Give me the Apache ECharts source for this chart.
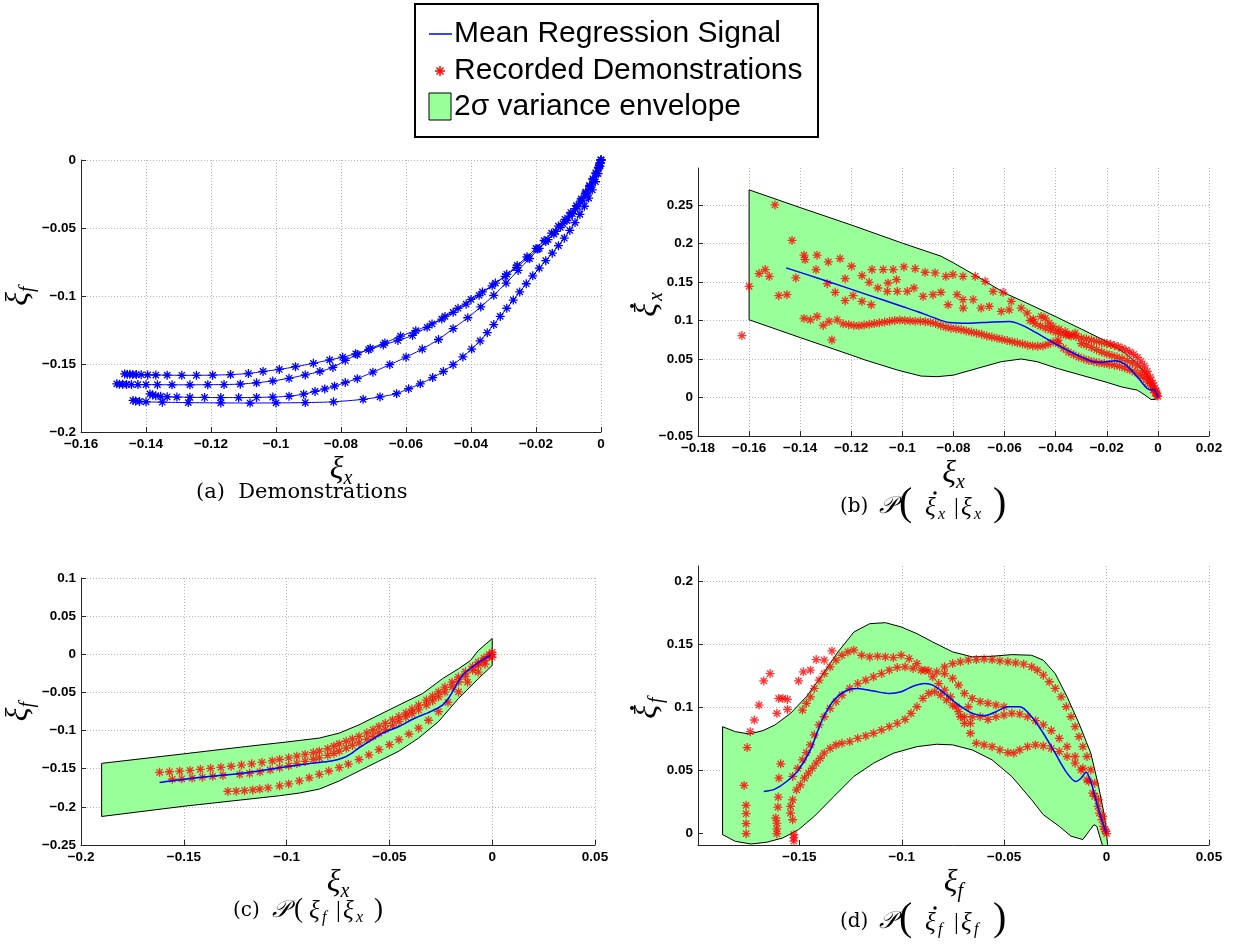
<!DOCTYPE html>
<html><head><meta charset="utf-8">
<script src="https://cdn.jsdelivr.net/npm/echarts@6/dist/echarts.min.js"></script>
<style>html,body{margin:0;padding:0;background:#fff}#c{width:1234px;height:945px}</style>
</head><body><div id="c"></div>
<script>
// ---------------- DATA ----------------
// (a) Demonstrations  [xi_x, xi_f]
const demoA1 = [[-0.1466,-0.1573],[-0.1458,-0.1575],[-0.1450,-0.1576],[-0.1441,-0.1577],[-0.1430,-0.1578],[-0.1415,-0.1579],[-0.1395,-0.1580],[-0.1370,-0.1581],[-0.1335,-0.1582],[-0.1290,-0.1583],[-0.1245,-0.1583],[-0.1195,-0.1582],[-0.1140,-0.1578],[-0.1085,-0.1570],[-0.1040,-0.1555],[-0.0990,-0.1540],[-0.0940,-0.1520],[-0.0885,-0.1495],[-0.0835,-0.1470],[-0.0795,-0.1450],[-0.0755,-0.1425],[-0.0715,-0.1395],[-0.0670,-0.1360],[-0.0625,-0.1327],[-0.0580,-0.1290],[-0.0535,-0.1230],[-0.0490,-0.1170],[-0.0455,-0.1120],[-0.0415,-0.1060],[-0.0375,-0.0995],[-0.0335,-0.0925],[-0.0295,-0.0855],[-0.0260,-0.0790],[-0.0225,-0.0720],[-0.0195,-0.0655],[-0.0170,-0.0600],[-0.0145,-0.0545],[-0.0125,-0.0495],[-0.0105,-0.0445],[-0.0088,-0.0395],[-0.0072,-0.0345],[-0.0058,-0.0295],[-0.0045,-0.0245],[-0.0034,-0.0195],[-0.0024,-0.0145],[-0.0015,-0.0100],[-0.0008,-0.0060],[-0.0003,-0.0025],[0,0]];
const demoA2 = [[-0.1490,-0.1646],[-0.1482,-0.1648],[-0.1472,-0.1649],[-0.1460,-0.1650],[-0.1445,-0.1651],[-0.1425,-0.1651],[-0.1400,-0.1652],[-0.1365,-0.1652],[-0.1320,-0.1653],[-0.1265,-0.1653],[-0.1210,-0.1652],[-0.1160,-0.1651],[-0.1110,-0.1648],[-0.1060,-0.1638],[-0.1010,-0.1625],[-0.0960,-0.1605],[-0.0910,-0.1580],[-0.0865,-0.1555],[-0.0825,-0.1525],[-0.0787,-0.1474],[-0.0750,-0.1430],[-0.0710,-0.1385],[-0.0665,-0.1345],[-0.0617,-0.1295],[-0.0570,-0.1255],[-0.0520,-0.1205],[-0.0480,-0.1150],[-0.0440,-0.1090],[-0.0400,-0.1025],[-0.0365,-0.0970],[-0.0325,-0.0905],[-0.0290,-0.0840],[-0.0258,-0.0775],[-0.0228,-0.0712],[-0.0200,-0.0650],[-0.0175,-0.0592],[-0.0152,-0.0538],[-0.0131,-0.0486],[-0.0111,-0.0436],[-0.0093,-0.0386],[-0.0076,-0.0336],[-0.0061,-0.0286],[-0.0047,-0.0236],[-0.0035,-0.0186],[-0.0025,-0.0138],[-0.0016,-0.0094],[-0.0008,-0.0054],[-0.0003,-0.0022],[0,0]];
const demoA3 = [[-0.1388,-0.1720],[-0.1380,-0.1728],[-0.1370,-0.1733],[-0.1355,-0.1738],[-0.1335,-0.1741],[-0.1305,-0.1743],[-0.1265,-0.1745],[-0.1220,-0.1746],[-0.1170,-0.1747],[-0.1115,-0.1747],[-0.1060,-0.1746],[-0.1010,-0.1743],[-0.0960,-0.1737],[-0.0915,-0.1722],[-0.0880,-0.1702],[-0.0850,-0.1683],[-0.0820,-0.1663],[-0.0787,-0.1636],[-0.0750,-0.1608],[-0.0702,-0.1560],[-0.0650,-0.1505],[-0.0600,-0.1450],[-0.0550,-0.1390],[-0.0500,-0.1320],[-0.0455,-0.1240],[-0.0410,-0.1160],[-0.0370,-0.1080],[-0.0330,-0.0995],[-0.0292,-0.0905],[-0.0255,-0.0812],[-0.0220,-0.0725],[-0.0190,-0.0650],[-0.0163,-0.0585],[-0.0139,-0.0525],[-0.0117,-0.0468],[-0.0097,-0.0412],[-0.0079,-0.0357],[-0.0063,-0.0302],[-0.0048,-0.0248],[-0.0035,-0.0195],[-0.0024,-0.0145],[-0.0015,-0.0098],[-0.0007,-0.0055],[-0.0002,-0.0020],[0,0]];
const demoA4 = [[-0.1440,-0.1768],[-0.1432,-0.1772],[-0.1420,-0.1775],[-0.1400,-0.1778],[-0.1350,-0.1781],[-0.1270,-0.1784],[-0.1170,-0.1786],[-0.1080,-0.1787],[-0.1000,-0.1786],[-0.0910,-0.1784],[-0.0823,-0.1778],[-0.0732,-0.1760],[-0.0680,-0.1742],[-0.0629,-0.1718],[-0.0592,-0.1682],[-0.0556,-0.1646],[-0.0518,-0.1600],[-0.0485,-0.1555],[-0.0455,-0.1505],[-0.0425,-0.1448],[-0.0398,-0.1390],[-0.0372,-0.1330],[-0.0350,-0.1270],[-0.0330,-0.1210],[-0.0310,-0.1150],[-0.0290,-0.1090],[-0.0270,-0.1030],[-0.0250,-0.0970],[-0.0230,-0.0910],[-0.0210,-0.0852],[-0.0190,-0.0795],[-0.0170,-0.0740],[-0.0150,-0.0685],[-0.0131,-0.0630],[-0.0113,-0.0575],[-0.0096,-0.0518],[-0.0080,-0.0460],[-0.0065,-0.0400],[-0.0051,-0.0340],[-0.0038,-0.0280],[-0.0027,-0.0220],[-0.0017,-0.0160],[-0.0009,-0.0100],[-0.0003,-0.0045],[0,0]];

// (b) P(dxi_x | xi_x)
const envUpB = [[-0.16,0.2696],[-0.14,0.2466],[-0.12,0.2240],[-0.10,0.2004],[-0.0849,0.1835],[-0.08,0.1748],[-0.07,0.1557],[-0.06,0.1357],[-0.05,0.1206],[-0.04,0.1050],[-0.03,0.0889],[-0.02,0.0726],[-0.0128,0.0574],[-0.0081,0.0443],[-0.0042,0.0290],[-0.0011,0.0117],[0.0005,0.0030]];
const envLowB = [[-0.16,0.1009],[-0.14,0.0778],[-0.12,0.0550],[-0.1146,0.0487],[-0.102,0.0357],[-0.0927,0.0278],[-0.0864,0.0270],[-0.0801,0.0290],[-0.0707,0.0378],[-0.0613,0.0465],[-0.0535,0.0500],[-0.0473,0.0465],[-0.0394,0.0378],[-0.0300,0.0290],[-0.0207,0.0204],[-0.0144,0.0139],[-0.0113,0.0117],[-0.0081,0.0096],[-0.0050,0.0030],[-0.0027,-0.0026],[-0.0011,-0.0026],[0.0005,0.0010]];
const meanB = [[-0.1455,0.1683],[-0.13,0.1516],[-0.115,0.1349],[-0.10,0.1182],[-0.0942,0.1117],[-0.0880,0.1040],[-0.0817,0.0974],[-0.0739,0.0965],[-0.0660,0.0978],[-0.0582,0.0987],[-0.0535,0.0943],[-0.0473,0.0835],[-0.0394,0.0683],[-0.0316,0.0552],[-0.0254,0.0465],[-0.0222,0.0457],[-0.0167,0.0478],[-0.0128,0.0430],[-0.0081,0.0270],[-0.0042,0.0117],[-0.0022,0.0096],[-0.0016,0.0104],[0,0]];
const velB1 = [[-0.1628,0.0804],[-0.1600,0.1443],[-0.1561,0.1609],[-0.1537,0.1661],[-0.1521,0.1574],[-0.1499,0.2500],[-0.1484,0.1322],[-0.1452,0.1335],[-0.1432,0.2039],[-0.1417,0.1552],[-0.1385,0.1848],[-0.1381,0.1791],[-0.1334,0.1848],[-0.1338,0.1661],[-0.1290,0.1761],[-0.1244,0.1804],[-0.1294,0.1478],[-0.1263,0.1365],[-0.1224,0.1543],[-0.1199,0.1704],[-0.1224,0.1257],[-0.1193,0.1322],[-0.1158,0.1583],[-0.1158,0.1248],[-0.1130,0.1496],[-0.1122,0.1204],[-0.1119,0.1661],[-0.1096,0.1422],[-0.1075,0.1661],[-0.1059,0.1378],[-0.1056,0.1487],[-0.1036,0.1661],[-0.1023,0.1530],[-0.1020,0.1378],[-0.0994,0.1696],[-0.0981,0.1378],[-0.0955,0.1422],[-0.0950,0.1674],[-0.0911,0.1626],[-0.0872,0.1617],[-0.0919,0.1313],[-0.0880,0.1335],[-0.0849,0.1365],[-0.0830,0.1574],[-0.0821,0.1204],[-0.0802,0.1596],[-0.0786,0.1335],[-0.0763,0.1574],[-0.0762,0.1161],[-0.0763,0.1270],[-0.0723,0.1270],[-0.0715,0.1574],[-0.0676,0.1509],[-0.0692,0.1161],[-0.0660,0.1183],[-0.0645,0.1378],[-0.0606,0.1365],[-0.0613,0.1117],[-0.0574,0.1248],[-0.0582,0.1139],[-0.0535,0.1161],[-0.0512,0.1096],[-0.0488,0.1017],[-0.0457,0.1052],[-0.0441,0.1030],[-0.0426,0.0965],[-0.0410,0.0922],[-0.0387,0.0887],[-0.0363,0.0857],[-0.0347,0.0813],[-0.0324,0.0835]];
const velB2 = [[-0.0340,0.0800],[-0.0320,0.0790],[-0.0300,0.0775],[-0.0280,0.0760],[-0.0260,0.0745],[-0.0240,0.0730],[-0.0220,0.0715],[-0.0200,0.0700],[-0.0185,0.0690],[-0.0170,0.0675],[-0.0155,0.0660],[-0.0140,0.0640],[-0.0125,0.0615],[-0.0110,0.0590],[-0.0095,0.0560],[-0.0080,0.0520],[-0.0066,0.0470],[-0.0053,0.0410],[-0.0041,0.0340],[-0.0030,0.0265],[-0.0020,0.0190],[-0.0012,0.0120],[-0.0005,0.0060],[0,0.0015]];
const velB3 = [[-0.1385,0.1026],[-0.1360,0.1009],[-0.1334,0.1052],[-0.1310,0.0935],[-0.1287,0.0987],[-0.1276,0.0748],[-0.1255,0.1009],[-0.1232,0.0957],[-0.1210,0.0945],[-0.1190,0.0935],[-0.1170,0.0930],[-0.1150,0.0940],[-0.1130,0.0950],[-0.1110,0.0960],[-0.1090,0.0970],[-0.1070,0.0980],[-0.1050,0.0990],[-0.1030,0.1000],[-0.1010,0.1005],[-0.0990,0.1000],[-0.0970,0.0995],[-0.0950,0.0990],[-0.0930,0.0990],[-0.0910,0.0985],[-0.0890,0.0975],[-0.0870,0.0960],[-0.0850,0.0935],[-0.0830,0.0915],[-0.0810,0.0900],[-0.0790,0.0890],[-0.0770,0.0880],[-0.0750,0.0865],[-0.0730,0.0850],[-0.0710,0.0835],[-0.0690,0.0820],[-0.0670,0.0800],[-0.0650,0.0785],[-0.0630,0.0770],[-0.0610,0.0755],[-0.0590,0.0740],[-0.0570,0.0725],[-0.0550,0.0710],[-0.0530,0.0695],[-0.0510,0.0680],[-0.0490,0.0670],[-0.0470,0.0665],[-0.0450,0.0670],[-0.0430,0.0690],[-0.0410,0.0720],[-0.0390,0.0745]];
const velB4 = [[-0.0390,0.0700],[-0.0370,0.0640],[-0.0350,0.0590],[-0.0330,0.0555],[-0.0310,0.0525],[-0.0290,0.0500],[-0.0270,0.0480],[-0.0250,0.0465],[-0.0230,0.0450],[-0.0210,0.0440],[-0.0190,0.0430],[-0.0170,0.0420],[-0.0150,0.0405],[-0.0130,0.0385],[-0.0110,0.0360],[-0.0090,0.0330],[-0.0070,0.0290],[-0.0055,0.0250],[-0.0040,0.0200],[-0.0028,0.0150],[-0.0018,0.0100],[-0.0010,0.0060],[-0.0004,0.0025]];
const velB5 = [[-0.0500,0.1000],[-0.0480,0.0960],[-0.0460,0.0930],[-0.0440,0.0900],[-0.0420,0.0875],[-0.0400,0.0850],[-0.0380,0.0830],[-0.0360,0.0810],[-0.0300,0.0700],[-0.0280,0.0680],[-0.0260,0.0650],[-0.0240,0.0620],[-0.0220,0.0590],[-0.0200,0.0565],[-0.0180,0.0545],[-0.0160,0.0525],[-0.0140,0.0505],[-0.0120,0.0480],[-0.0100,0.0450],[-0.0080,0.0410],[-0.0060,0.0350],[-0.0045,0.0290],[-0.0030,0.0220],[-0.0018,0.0150],[-0.0008,0.0080]];

// (c) P(xi_f | xi_x)
const envUpC = [[-0.19,-0.1430],[-0.15,-0.1305],[-0.12,-0.1210],[-0.10,-0.1150],[-0.0841,-0.1098],[-0.0744,-0.1033],[-0.0648,-0.0925],[-0.0551,-0.0795],[-0.0454,-0.0666],[-0.0338,-0.0514],[-0.0242,-0.0320],[-0.0164,-0.0190],[-0.0106,-0.0082],[-0.0068,0.0048],[0,0.0207]];
const envLowC = [[-0.19,-0.2126],[-0.15,-0.1992],[-0.1034,-0.1854],[-0.0938,-0.1819],[-0.0841,-0.1767],[-0.0744,-0.1660],[-0.0648,-0.1530],[-0.0551,-0.1400],[-0.0454,-0.1270],[-0.0358,-0.1098],[-0.0261,-0.0882],[-0.0164,-0.0579],[-0.0068,-0.0320],[0,-0.0147]];
const meanC = [[-0.1618,-0.1681],[-0.1421,-0.1616],[-0.1228,-0.1564],[-0.1034,-0.1487],[-0.0880,-0.1430],[-0.0783,-0.1400],[-0.0725,-0.1357],[-0.0686,-0.1301],[-0.0648,-0.1227],[-0.0590,-0.1128],[-0.0532,-0.1033],[-0.0454,-0.0946],[-0.0377,-0.0838],[-0.0300,-0.0752],[-0.0242,-0.0666],[-0.0213,-0.0579],[-0.0184,-0.0449],[-0.0145,-0.0277],[-0.0087,-0.0147],[-0.0039,-0.0060],[-0.0006,-0.0009]];
const posC1 = [[-0.1618,-0.1547],[-0.157,-0.1540],[-0.152,-0.1532],[-0.147,-0.1523],[-0.142,-0.1508],[-0.137,-0.1495],[-0.132,-0.1482],[-0.127,-0.1468],[-0.122,-0.1452],[-0.117,-0.1436],[-0.112,-0.1418],[-0.107,-0.1398],[-0.1034,-0.1379],[-0.099,-0.1357],[-0.095,-0.1336],[-0.091,-0.1313],[-0.087,-0.1288],[-0.0841,-0.1270],[-0.080,-0.1238],[-0.077,-0.1205],[-0.0744,-0.1175],[-0.071,-0.1140],[-0.068,-0.1110],[-0.0648,-0.1076],[-0.061,-0.1030],[-0.058,-0.0990],[-0.0551,-0.0946],[-0.052,-0.0905],[-0.0485,-0.0860],[-0.0454,-0.0817],[-0.042,-0.0768],[-0.039,-0.0718],[-0.0358,-0.0666],[-0.032,-0.0600],[-0.029,-0.0548],[-0.0261,-0.0493],[-0.023,-0.0430],[-0.0195,-0.0365],[-0.0164,-0.0298],[-0.013,-0.0230],[-0.0095,-0.0160],[-0.0068,-0.0104],[-0.004,-0.0050],[-0.0015,-0.0005],[0,0.0026]];
const posC2 = [[-0.1556,-0.1638],[-0.151,-0.1632],[-0.146,-0.1623],[-0.141,-0.1612],[-0.136,-0.1600],[-0.131,-0.1588],[-0.1228,-0.1573],[-0.118,-0.1560],[-0.113,-0.1540],[-0.108,-0.1515],[-0.1034,-0.1487],[-0.099,-0.1460],[-0.095,-0.1432],[-0.091,-0.1405],[-0.087,-0.1378],[-0.0841,-0.1357],[-0.080,-0.1325],[-0.077,-0.1298],[-0.0744,-0.1270],[-0.071,-0.1230],[-0.068,-0.1195],[-0.0648,-0.1162],[-0.061,-0.1115],[-0.058,-0.1075],[-0.0551,-0.1033],[-0.052,-0.0985],[-0.0485,-0.0935],[-0.0454,-0.0882],[-0.042,-0.0825],[-0.039,-0.0778],[-0.0358,-0.0730],[-0.032,-0.0665],[-0.029,-0.0612],[-0.0261,-0.0557],[-0.023,-0.0495],[-0.0195,-0.0430],[-0.0164,-0.0363],[-0.013,-0.0290],[-0.0095,-0.0210],[-0.0068,-0.0147],[-0.004,-0.0085],[-0.0015,-0.0030],[0,0]];
const posC3 = [[-0.1286,-0.1798],[-0.1245,-0.1795],[-0.1205,-0.1788],[-0.1165,-0.1778],[-0.1131,-0.1767],[-0.109,-0.1752],[-0.1034,-0.1724],[-0.099,-0.1700],[-0.0938,-0.1660],[-0.089,-0.1620],[-0.0841,-0.1573],[-0.0795,-0.1530],[-0.0744,-0.1487],[-0.070,-0.1440],[-0.0648,-0.1379],[-0.060,-0.1318],[-0.0551,-0.1249],[-0.050,-0.1185],[-0.0454,-0.1119],[-0.0405,-0.1045],[-0.0358,-0.0968],[-0.031,-0.0865],[-0.0261,-0.0752],[-0.0215,-0.0630],[-0.0164,-0.0493],[-0.012,-0.0365],[-0.0068,-0.0233],[-0.0035,-0.0130],[0,-0.0039]];

// (d) P(dxi_f | xi_f)
const envUpD = [[-0.1875,0.0847],[-0.1813,0.0808],[-0.1745,0.0789],[-0.1678,0.0816],[-0.1620,0.0860],[-0.1543,0.0953],[-0.1466,0.1084],[-0.1389,0.1255],[-0.1311,0.1440],[-0.1234,0.1597],[-0.1157,0.1663],[-0.1080,0.1671],[-0.1003,0.1637],[-0.0926,0.1584],[-0.0849,0.1518],[-0.0752,0.1440],[-0.0656,0.1400],[-0.0559,0.1405],[-0.0463,0.1418],[-0.0366,0.1413],[-0.0309,0.1374],[-0.0251,0.1268],[-0.0193,0.1084],[-0.0135,0.0874],[-0.0077,0.0637],[-0.0039,0.0374],[-0.0010,0.0137],[0.0006,-0.0100]];
const envLowD = [[-0.1875,-0.0008],[-0.1813,-0.0061],[-0.1736,-0.0082],[-0.1659,-0.0068],[-0.1581,-0.0034],[-0.1504,0.0032],[-0.1427,0.0137],[-0.1331,0.0295],[-0.1234,0.0453],[-0.1138,0.0558],[-0.1041,0.0637],[-0.0926,0.0689],[-0.0830,0.0708],[-0.0752,0.0703],[-0.0656,0.0663],[-0.0559,0.0584],[-0.0463,0.0453],[-0.0366,0.0268],[-0.0309,0.0150],[-0.0231,0.0058],[-0.0174,-0.0020],[-0.0116,-0.0047],[-0.0062,0.0071],[-0.0048,0.0058],[-0.0019,-0.0100]];
const meanD = [[-0.1674,0.0334],[-0.1620,0.0353],[-0.1562,0.0413],[-0.1504,0.0505],[-0.1446,0.0663],[-0.1389,0.0900],[-0.1331,0.1058],[-0.1273,0.1132],[-0.1215,0.1150],[-0.1138,0.1129],[-0.1061,0.1111],[-0.1003,0.1124],[-0.0945,0.1168],[-0.0887,0.1189],[-0.0849,0.1176],[-0.0791,0.1111],[-0.0733,0.1032],[-0.0656,0.0953],[-0.0598,0.0934],[-0.0540,0.0966],[-0.0482,0.1005],[-0.0424,0.1005],[-0.0366,0.0926],[-0.0309,0.0795],[-0.0251,0.0637],[-0.0193,0.0479],[-0.0150,0.0413],[-0.0125,0.0439],[-0.0100,0.0487],[-0.0077,0.0413],[-0.0048,0.0242],[-0.0019,0.0084],[0,0.0005]];
const velD1 = [[-0.1760,0],[-0.1760,0.0079],[-0.1760,0.0158],[-0.1760,0.0224],[-0.1770,0.0382],[-0.1755,0.0682],[-0.1740,0.0808],[-0.1720,0.0900],[-0.1697,0.1018],[-0.1674,0.1210],[-0.1643,0.1268],[-0.1610,0],[-0.1610,0.0037],[-0.1610,0.0084],[-0.1615,0.0124],[-0.1605,0.0210],[-0.1603,0.0290],[-0.1600,0.0440],[-0.1591,0.0553],[-0.1610,0.0953],[-0.1601,0.1071],[-0.1581,0.1071],[-0.1558,0.1063],[-0.1558,0.0984],[-0.1527,-0.0060],[-0.1527,-0.0034],[-0.1527,-0.0008],[-0.1533,0.0110],[-0.1543,0.0163],[-0.1543,0.0216],[-0.1533,0.0268],[-0.1504,0.1210],[-0.1481,0.1282],[-0.1446,0.1295],[-0.1418,0.1379],[-0.1379,0.1374],[-0.1341,0.1447]];
const velD2 = [[-0.1485,0.0979],[-0.1466,0.1032],[-0.1446,0.1084],[-0.1427,0.1150],[-0.1404,0.1216],[-0.1379,0.1268],[-0.1350,0.1321],[-0.1321,0.1374],[-0.1292,0.1413],[-0.1263,0.1439],[-0.1234,0.1453],[-0.1196,0.1413],[-0.1157,0.1400],[-0.1118,0.1405],[-0.1080,0.1400],[-0.1041,0.1395],[-0.1003,0.1413],[-0.0964,0.1387],[-0.0926,0.1347],[-0.0887,0.1295],[-0.0849,0.1242],[-0.0820,0.1189],[-0.0791,0.1137],[-0.0762,0.1084],[-0.0733,0.1005],[-0.0714,0.0926],[-0.0694,0.0874],[-0.0665,0.0795]];
const velD3 = [[-0.1533,0.0453],[-0.1508,0.0518],[-0.1485,0.0584],[-0.1466,0.0642],[-0.1446,0.0703],[-0.1427,0.0782],[-0.1404,0.0861],[-0.1379,0.0926],[-0.1350,0.0992],[-0.1321,0.1045],[-0.1292,0.1097],[-0.1254,0.1150],[-0.1215,0.1189],[-0.1176,0.1216],[-0.1138,0.1242],[-0.1099,0.1268],[-0.1061,0.1295],[-0.1022,0.1316],[-0.0984,0.1321],[-0.0945,0.1308],[-0.0906,0.1295],[-0.0868,0.1289],[-0.0829,0.1282],[-0.0791,0.1268],[-0.0752,0.1229],[-0.0723,0.1176],[-0.0694,0.1111],[-0.0675,0.1005],[-0.0656,0.0926],[-0.0617,0.0926],[-0.0579,0.0905],[-0.0540,0.0926],[-0.0501,0.0939],[-0.0463,0.0953],[-0.0424,0.0947],[-0.0386,0.0926],[-0.0347,0.0895],[-0.0309,0.0861],[-0.0270,0.0816],[-0.0231,0.0755],[-0.0193,0.0689],[-0.0154,0.0611],[-0.0116,0.0518],[-0.0087,0.0413],[-0.0058,0.0295],[-0.0035,0.0163],[-0.0015,0.0058],[-0.0656,0.1071],[-0.0617,0.1045],[-0.0579,0.1032],[-0.0540,0.1018],[-0.0501,0.1005]];
const velD4 = [[-0.1514,0.0347],[-0.1495,0.0387],[-0.1475,0.0440],[-0.1456,0.0479],[-0.1437,0.0518],[-0.1418,0.0558],[-0.1398,0.0597],[-0.1379,0.0637],[-0.1350,0.0676],[-0.1321,0.0703],[-0.1292,0.0716],[-0.1254,0.0729],[-0.1215,0.0755],[-0.1176,0.0774],[-0.1138,0.0795],[-0.1099,0.0821],[-0.1061,0.0847],[-0.1022,0.0874],[-0.0984,0.0905],[-0.0955,0.0953],[-0.0926,0.1005],[-0.0897,0.1071],[-0.0868,0.1111],[-0.0839,0.1124],[-0.0810,0.1097],[-0.0781,0.1058],[-0.0752,0.1018],[-0.0723,0.0966],[-0.0694,0.0926],[-0.0665,0.0874],[-0.0636,0.0716],[-0.0598,0.0703],[-0.0559,0.0689],[-0.0521,0.0663],[-0.0482,0.0642],[-0.0453,0.0637],[-0.0424,0.0663],[-0.0386,0.0689],[-0.0347,0.0703],[-0.0309,0.0695],[-0.0270,0.0676],[-0.0231,0.0650],[-0.0193,0.0611],[-0.0154,0.0558],[-0.0125,0.0505],[-0.0096,0.0426],[-0.0068,0.0321],[-0.0042,0.0216],[-0.0023,0.0111],[-0.0008,0.0032]];
const velD5 = [[-0.0791,0.1321],[-0.0752,0.1347],[-0.0714,0.1361],[-0.0675,0.1374],[-0.0636,0.1379],[-0.0598,0.1384],[-0.0559,0.1379],[-0.0521,0.1368],[-0.0482,0.1361],[-0.0444,0.1353],[-0.0405,0.1342],[-0.0366,0.1321],[-0.0338,0.1295],[-0.0309,0.1255],[-0.0280,0.1203],[-0.0251,0.1150],[-0.0222,0.1084],[-0.0197,0.1005],[-0.0174,0.0926],[-0.0154,0.0847],[-0.0135,0.0768],[-0.0116,0.0689],[-0.0096,0.0611],[-0.0077,0.0505],[-0.0058,0.0400],[-0.0039,0.0268],[-0.0019,0.0137],[-0.0004,0.0018],[0,0]];

// tick values
const ticksAx = [-0.16,-0.14,-0.12,-0.1,-0.08,-0.06,-0.04,-0.02,0];
const ticksAy = [-0.2,-0.15,-0.1,-0.05,0];
const ticksBx = [-0.18,-0.16,-0.14,-0.12,-0.1,-0.08,-0.06,-0.04,-0.02,0,0.02];
const ticksBy = [-0.05,0,0.05,0.1,0.15,0.2,0.25];
const ticksCx = [-0.2,-0.15,-0.1,-0.05,0,0.05];
const ticksCy = [-0.25,-0.2,-0.15,-0.1,-0.05,0,0.05,0.1];
const ticksDx = [-0.15,-0.1,-0.05,0,0.05];
const ticksDy = [0,0.05,0.1,0.15,0.2];

// ---------------- CHART ----------------
const chart = echarts.init(document.getElementById('c'), null, {renderer:'canvas'});
const STAR = 'path://M5,0L5,10M0,5L10,5M1.5,1.5L8.5,8.5M8.5,1.5L1.5,8.5';
const SERIF = "'Liberation Serif','DejaVu Serif',serif";
const CAPF = "'DejaVu Serif','Liberation Serif',serif";
const fmt = v => String(+(+v).toFixed(4)).replace('-', '\u2212');
const XI = '\u03be';

function nameRich(){
  return {
    g:{fontFamily:SERIF, fontStyle:'italic', fontSize:32, color:'#000', lineHeight:36},
    s:{fontFamily:SERIF, fontStyle:'italic', fontSize:20, color:'#000', verticalAlign:'top', padding:[17,0,0,0], lineHeight:20}
  };
}
function mkAxis(dim, gi, min, max, ticks, name, gap){
  return {
    type:'value', gridIndex:gi, min, max,
    name, nameLocation:'middle', nameGap:gap, nameRotate: dim==='y'?90:0,
    nameTextStyle:{rich:nameRich()},
    axisLine:{show:true, onZero:false, lineStyle:{color:'#262626', width:1}},
    axisTick:{show:true, inside:true, length:5, customValues:ticks, lineStyle:{color:'#262626'}},
    axisLabel:{customValues:ticks, formatter:fmt, color:'#000', fontFamily:"'Liberation Sans',Arial,sans-serif", fontWeight:'bold', fontSize:13.5, margin:5},
    splitLine:{show:true, customValues:ticks, showMinLine:false, lineStyle:{color:'#b4b4b4', type:[1,2], width:1}}
  };
}
function envPoly(up, low){ return up.concat(low.slice().reverse()); }
function envSeries(gi, poly){
  return {type:'custom', name:'2\u03c3 variance envelope', xAxisIndex:gi, yAxisIndex:gi, clip:true, z:1, silent:true,
    data: poly, encode:{x:0, y:1},
    renderItem:function(params, api){
      if(params.dataIndex!==0) return null;
      const pts = poly.map(p => api.coord(p));
      return {type:'polygon', shape:{points:pts}, style:{fill:'#99ff99', stroke:'#000', lineWidth:1}};
    }};
}
function redSeries(gi, data){
  return {type:'scatter', name:'Recorded Demonstrations', xAxisIndex:gi, yAxisIndex:gi, z:2, clip:true,
    symbol:STAR, symbolSize:9, data,
    itemStyle:{color:'rgba(0,0,0,0)', borderColor:'#ff0000', borderWidth:1.3}};
}
function meanSeries(gi, data){
  return {type:'line', name:'Mean Regression Signal', xAxisIndex:gi, yAxisIndex:gi, z:3, smooth:0.3,
    showSymbol:false, data, lineStyle:{color:'#0000ff', width:1.5}, itemStyle:{color:'#0000ff'}};
}
function demoSeries(data){
  return {type:'line', xAxisIndex:0, yAxisIndex:0, z:3, data, smooth:0.2,
    symbol:STAR, symbolSize:9, showSymbol:true, showAllSymbol:true,
    lineStyle:{color:'#0000ff', width:1}, itemStyle:{color:'rgba(0,0,0,0)', borderColor:'#0000ff', borderWidth:1.3}};
}
// text helpers for captions / dotted names
function T(x, y, text, font, extra){
  return Object.assign({type:'text', x, y, style:{text, font, fill:'#000', align:'left', verticalAlign:'middle'}}, extra||{});
}
function dot(cx, cy){ return {type:'circle', shape:{cx, cy, r:1.7}, style:{fill:'#000'}}; }
const F_R = "21px " + CAPF;
const F_L = "20px " + CAPF;
const F_P = "italic 24px " + SERIF;
const F_BIG = "40px " + SERIF;
const F_MID = "27px " + SERIF;
const F_G = "italic 25px " + SERIF;
const F_S = "italic 16px " + SERIF;
const F_BAR = "24px " + SERIF;

function yNameDot(x, y, sub){
  return {type:'group', x, y, rotation:Math.PI/2, children:[
    {type:'text', x:0, y:0, style:{text:XI, font:"italic 32px "+SERIF, fill:'#000', align:'center', verticalAlign:'middle'}},
    {type:'circle', shape:{cx:4, cy:-16, r:2}, style:{fill:'#000'}},
    {type:'text', x:9, y:9, style:{text:sub, font:"italic 20px "+SERIF, fill:'#000', align:'left', verticalAlign:'middle'}}
  ]};
}
function starLines(cx, cy, r, color){
  const d = r*0.7;
  return [[0,-r,0,r],[-r,0,r,0],[-d,-d,d,d],[d,-d,-d,d]].map(a => ({type:'line', z:11, shape:{x1:cx+a[0],y1:cy+a[1],x2:cx+a[2],y2:cy+a[3]}, style:{stroke:color, lineWidth:1.5}}));
}

const LEGF = "30px 'Liberation Sans', Arial, sans-serif";
const P = '\ud835\udcab';
const option = {
  animation:false,
  backgroundColor:'#fff',
  grid:[
    {left:80, top:160, width:521, height:272},
    {left:698, top:168, width:511, height:268},
    {left:80, top:578, width:515, height:267},
    {left:698, top:566, width:511, height:279}
  ],
  xAxis:[
    mkAxis('x',0,-0.16,0,ticksAx,'{g|'+XI+'}{s|x}',18),
    mkAxis('x',1,-0.18,0.02,ticksBx,'{g|'+XI+'}{s|x}',20),
    mkAxis('x',2,-0.2,0.05,ticksCx,'{g|'+XI+'}{s|x}',20),
    mkAxis('x',3,-0.1995,0.05,ticksDx,'{g|'+XI+'}{s|f}',20)
  ],
  yAxis:[
    mkAxis('y',0,-0.2,0,ticksAy,'{g|'+XI+'}{s|f}',40),
    mkAxis('y',1,-0.05,0.298,ticksBy,'',38),
    mkAxis('y',2,-0.25,0.1,ticksCy,'{g|'+XI+'}{s|f}',40),
    mkAxis('y',3,-0.009,0.212,ticksDy,'',38)
  ],
  series:[
    demoSeries(demoA1), demoSeries(demoA2), demoSeries(demoA3), demoSeries(demoA4),
    envSeries(1, envPoly(envUpB, envLowB)),
    redSeries(1, velB1.concat(velB2, velB3, velB4, velB5)),
    meanSeries(1, meanB),
    envSeries(2, envPoly(envUpC, envLowC)),
    redSeries(2, posC1.concat(posC2, posC3)),
    meanSeries(2, meanC),
    envSeries(3, envPoly(envUpD, envLowD)),
    redSeries(3, velD1.concat(velD2, velD3, velD4, velD5)),
    meanSeries(3, meanD)
  ],
  graphic:[
    // legend box
    {type:'rect', shape:{x:415, y:4, width:403, height:133}, style:{fill:'#fff', stroke:'#000', lineWidth:2}, z:10},
    {type:'line', shape:{x1:429, y1:34, x2:452, y2:34}, style:{stroke:'#0000ff', lineWidth:1.5}, z:11},
    ...starLines(440, 71, 5, '#ff0000'),
    {type:'rect', shape:{x:429, y:93, width:22, height:27}, style:{fill:'#99ff99', stroke:'#000', lineWidth:1}, z:11},
    T(454, 34, 'Mean Regression Signal', LEGF, {z:11}),
    T(454, 71, 'Recorded Demonstrations', LEGF, {z:11}),
    T(454, 107, '2\u03c3 variance envelope', LEGF, {z:11}),
    // dotted y-axis names
    yNameDot(648, 310, 'x'),
    yNameDot(648, 712, 'f'),
    // caption (a)
    T(196, 493, '(a)  Demonstrations', F_R),
    // caption (b)
    T(840, 507, '(b)', F_L), T(879, 507, P, F_P), T(899, 504, '(', F_BIG),
    T(925, 508, XI, F_G), dot(935, 493), T(938, 515, 'x', F_S),
    T(954, 508, '|', F_BAR), T(961, 508, XI, F_G), T(974, 515, 'x', F_S), T(993, 504, ')', F_BIG),
    // caption (c)
    T(233, 911, '(c)', F_L), T(272, 911, P, F_P), T(294, 910, '(', F_MID),
    T(309, 911, XI, F_G), T(322, 918, 'f', F_S),
    T(336, 911, '|', F_BAR), T(343, 911, XI, F_G), T(356, 918, 'x', F_S), T(374, 910, ')', F_MID),
    // caption (d)
    T(840, 922, '(d)', F_L), T(879, 922, P, F_P), T(899, 919, '(', F_BIG),
    T(925, 923, XI, F_G), dot(935, 908), T(938, 930, 'f', F_S),
    T(954, 923, '|', F_BAR), T(961, 923, XI, F_G), T(974, 930, 'f', F_S), T(993, 919, ')', F_BIG)
  ]
};
chart.setOption(option);
</script></body></html>
